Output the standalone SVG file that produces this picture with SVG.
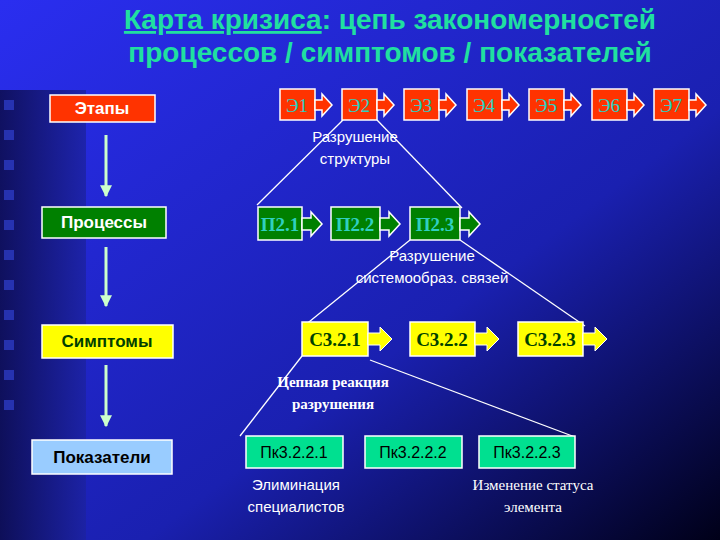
<svg xmlns="http://www.w3.org/2000/svg" width="720" height="540" viewBox="0 0 720 540">
<defs>
<linearGradient id="bg" x1="0" y1="0" x2="1" y2="1"><stop offset="0" stop-color="#2a2ef0"/><stop offset="0.6" stop-color="#1a20b0"/><stop offset="1" stop-color="#000018"/></linearGradient>
<linearGradient id="strip" x1="0" y1="0" x2="1" y2="0"><stop offset="0" stop-color="#0a0a40"/><stop offset="1" stop-color="#1c22a0"/></linearGradient>
<marker id="ah" viewBox="0 0 10 10" refX="9" refY="5" markerWidth="4" markerHeight="4" orient="auto"><path d="M0,0L10,5L0,10z" fill="#ccffcc"/></marker>
</defs>
<style>
.sans{font-family:"Liberation Sans",Arial,sans-serif}
.serif{font-family:"Liberation Serif","Times New Roman",serif}
.b{stroke:#fff;stroke-width:1.5}
.lbl{fill:#fff;font-size:15px;text-anchor:middle}
.ln{stroke:#fff;stroke-width:1.3;fill:none}
</style>
<rect width="720" height="540" fill="url(#bg)"/>
<rect x="0" y="90" width="86" height="450" fill="url(#strip)" opacity="0.8"/>
<g fill="#3040d0" opacity="0.7">
<rect x="4" y="100" width="10" height="10"/><rect x="4" y="130" width="10" height="10"/><rect x="4" y="160" width="10" height="10"/><rect x="4" y="190" width="10" height="10"/><rect x="4" y="220" width="10" height="10"/><rect x="4" y="250" width="10" height="10"/><rect x="4" y="280" width="10" height="10"/><rect x="4" y="310" width="10" height="10"/><rect x="4" y="340" width="10" height="10"/><rect x="4" y="370" width="10" height="10"/><rect x="4" y="400" width="10" height="10"/>
</g>
<g id="title" class="sans" font-weight="bold" font-size="28" fill="#20e0a0" text-anchor="middle">
<text x="390" y="29"><tspan text-decoration="underline">Карта кризиса</tspan>: цепь закономерностей</text>
<text x="390" y="62">процессов / симптомов / показателей</text>
</g>
<g id="connectors">
<g stroke="#ccffcc" stroke-width="3" marker-end="url(#ah)">
<line x1="106" y1="135" x2="106" y2="196"/><line x1="106" y1="247" x2="106" y2="306"/><line x1="106" y1="365" x2="106" y2="426"/>
</g>
<line class="ln" x1="343" y1="120" x2="257" y2="205"/><line class="ln" x1="377" y1="120" x2="462" y2="208"/>
<line class="ln" x1="410" y1="240" x2="304" y2="326"/><line class="ln" x1="460" y1="240" x2="585" y2="326"/>
<line class="ln" x1="302" y1="356" x2="240" y2="436"/><line class="ln" x1="370" y1="360" x2="575" y2="437"/>
</g>
<g id="stages" class="sans" font-size="17" font-weight="bold" text-anchor="middle">
<g id="n-etapy"><rect x="50" y="95" width="105" height="27" fill="#ff3300" class="b"/><text x="102" y="114" fill="#fff">Этапы</text></g>
<g id="n-processy"><rect x="42" y="207" width="124" height="31" fill="#008000" class="b"/><text x="104" y="228" fill="#fff">Процессы</text></g>
<g id="n-simptomy"><rect x="42" y="325" width="131" height="33" fill="#ffff00" class="b"/><text x="107" y="347" fill="#004000">Симптомы</text></g>
<g id="n-pokazateli"><rect x="32" y="440" width="140" height="34" fill="#99ccff" class="b"/><text x="102" y="463" fill="#000">Показатели</text></g>
</g>
<g id="E" class="serif" font-size="19" text-anchor="middle" fill="#30d0c0">
<g id="e1"><rect x="280" y="89" width="35" height="31" fill="#ff3300" class="b"/><path d="M315,100h7v-6l10,11l-10,11v-6h-7z" fill="#ff3300" class="b"/><text x="297" y="112">Э1</text></g>
<g id="e2"><rect x="342" y="89" width="35" height="31" fill="#ff3300" class="b"/><path d="M377,100h7v-6l10,11l-10,11v-6h-7z" fill="#ff3300" class="b"/><text x="359" y="112">Э2</text></g>
<g id="e3"><rect x="404" y="89" width="35" height="31" fill="#ff3300" class="b"/><path d="M439,100h7v-6l10,11l-10,11v-6h-7z" fill="#ff3300" class="b"/><text x="421" y="112">Э3</text></g>
<g id="e4"><rect x="467" y="89" width="35" height="31" fill="#ff3300" class="b"/><path d="M502,100h7v-6l10,11l-10,11v-6h-7z" fill="#ff3300" class="b"/><text x="484" y="112">Э4</text></g>
<g id="e5"><rect x="529" y="89" width="35" height="31" fill="#ff3300" class="b"/><path d="M564,100h7v-6l10,11l-10,11v-6h-7z" fill="#ff3300" class="b"/><text x="546" y="112">Э5</text></g>
<g id="e6"><rect x="592" y="89" width="35" height="31" fill="#ff3300" class="b"/><path d="M627,100h7v-6l10,11l-10,11v-6h-7z" fill="#ff3300" class="b"/><text x="609" y="112">Э6</text></g>
<g id="e7"><rect x="654" y="89" width="35" height="31" fill="#ff3300" class="b"/><path d="M689,100h7v-6l10,11l-10,11v-6h-7z" fill="#ff3300" class="b"/><text x="671" y="112">Э7</text></g>
</g>
<g id="P" class="serif" font-size="19" font-weight="bold" text-anchor="middle" fill="#30d0c0">
<g id="p1"><rect x="258" y="207" width="44" height="33" fill="#008000" class="b"/><path d="M302,218h9v-6l11,12l-11,12v-6h-9z" fill="#008000" class="b"/><text x="280" y="231">П2.1</text></g>
<g id="p2"><rect x="331" y="207" width="49" height="33" fill="#008000" class="b"/><path d="M380,218h9v-6l11,12l-11,12v-6h-9z" fill="#008000" class="b"/><text x="355" y="231">П2.2</text></g>
<g id="p3"><rect x="410" y="207" width="50" height="33" fill="#008000" class="b"/><path d="M460,218h9v-6l11,12l-11,12v-6h-9z" fill="#008000" class="b"/><text x="435" y="231">П2.3</text></g>
</g>
<g id="S" class="serif" font-size="19" font-weight="bold" text-anchor="middle" fill="#004000">
<g id="s1"><rect x="302" y="322" width="66" height="34" fill="#ffff00" class="b"/><path d="M368,333h12v-6l12,12l-12,12v-6h-12z" fill="#ffff00" stroke="#fff"/><text x="335" y="346">С3.2.1</text></g>
<g id="s2"><rect x="410" y="322" width="65" height="34" fill="#ffff00" class="b"/><path d="M475,333h12v-6l12,12l-12,12v-6h-12z" fill="#ffff00" stroke="#fff"/><text x="442" y="346">С3.2.2</text></g>
<g id="s3"><rect x="518" y="322" width="65" height="34" fill="#ffff00" class="b"/><path d="M583,333h12v-6l12,12l-12,12v-6h-12z" fill="#ffff00" stroke="#fff"/><text x="550" y="346">С3.2.3</text></g>
</g>
<g id="PK" class="sans" font-size="16" text-anchor="middle" fill="#000">
<g id="pk1"><rect x="246" y="436" width="97" height="32" fill="#00e090" class="b"/><text x="294" y="458">Пк3.2.2.1</text></g>
<g id="pk2"><rect x="365" y="436" width="97" height="32" fill="#00e090" class="b"/><text x="413" y="458">Пк3.2.2.2</text></g>
<g id="pk3"><rect x="479" y="436" width="96" height="32" fill="#00e090" class="b"/><text x="527" y="458">Пк3.2.2.3</text></g>
</g>
<g id="labels">
<text class="sans lbl" x="355" y="142">Разрушение</text><text class="sans lbl" x="355" y="164">структуры</text>
<text class="sans lbl" x="432" y="261">Разрушение</text><text class="sans lbl" x="432" y="283">системообраз. связей</text>
<text class="serif lbl" x="333" y="387" font-weight="bold">Цепная реакция</text><text class="serif lbl" x="333" y="409" font-weight="bold">разрушения</text>
<text class="sans lbl" x="296" y="490" font-size="16">Элиминация</text><text class="sans lbl" x="296" y="512" font-size="16">специалистов</text>
<text class="serif lbl" x="533" y="490">Изменение статуса</text><text class="serif lbl" x="533" y="512">элемента</text>
</g>
</svg>
